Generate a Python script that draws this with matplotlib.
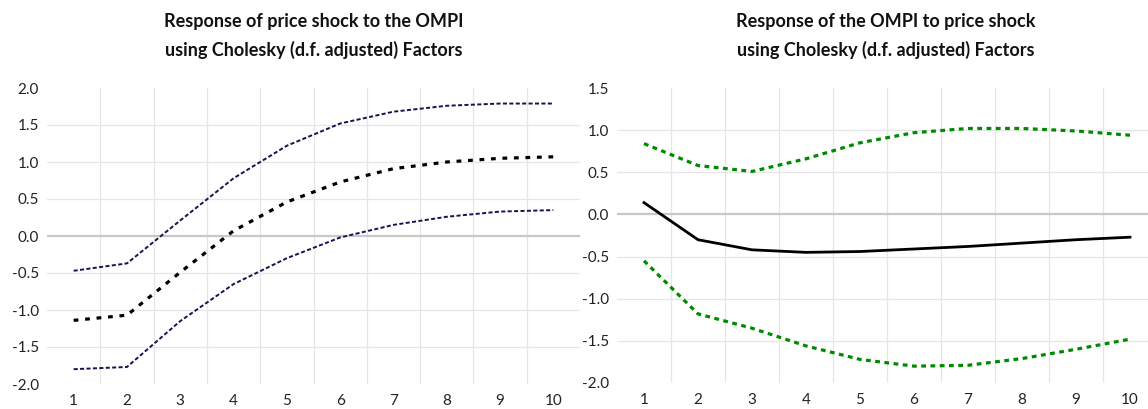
import matplotlib
matplotlib.use("Agg")
import matplotlib.pyplot as plt
import numpy as np

periods = [1, 2, 3, 4, 5, 6, 7, 8, 9, 10]

# Left panel: response of price shock to the OMPI
left_upper = [-0.47, -0.37, 0.21, 0.78, 1.22, 1.52, 1.68, 1.76, 1.79, 1.79]
left_mid = [-1.14, -1.07, -0.49, 0.07, 0.46, 0.73, 0.91, 1.00, 1.05, 1.07]
left_lower = [-1.80, -1.77, -1.15, -0.65, -0.30, -0.02, 0.15, 0.26, 0.33, 0.35]

# Right panel: response of the OMPI to price shock
right_upper = [0.84, 0.58, 0.51, 0.66, 0.85, 0.97, 1.02, 1.02, 0.99, 0.94]
right_mid = [0.14, -0.30, -0.42, -0.45, -0.44, -0.41, -0.38, -0.34, -0.30, -0.27]
right_lower = [-0.55, -1.18, -1.35, -1.56, -1.72, -1.80, -1.79, -1.71, -1.60, -1.48]

left_title = ["Response of price shock to the OMPI",
              "using Cholesky (d.f. adjusted) Factors"]
right_title = ["Response of the OMPI to price shock",
               "using Cholesky (d.f. adjusted) Factors"]
left_yticks = [-2.0, -1.5, -1.0, -0.5, 0.0, 0.5, 1.0, 1.5, 2.0]
right_yticks = [-2.0, -1.5, -1.0, -0.5, 0.0, 0.5, 1.0, 1.5]

plt.rcParams['font.family'] = ['Lato', 'DejaVu Sans']

W, H = 1148, 409
fig = plt.figure(figsize=(W / 100, H / 100), dpi=100)

def px_axes(x0, x1, ytop, ybot):
    return fig.add_axes([x0 / W, 1 - ybot / H, (x1 - x0) / W, (ybot - ytop) / H])

axL = px_axes(47, 580, 88, 384)
axR = px_axes(617, 1157, 88, 383)

def style(ax, yticks, title_lines, xc):
    ax.set_xlim(0.5, 10.5)
    ax.set_ylim(yticks[0], yticks[-1])
    ax.set_xticks(periods)
    ax.set_xticklabels([str(p) for p in periods])
    ax.set_yticks(yticks)
    ax.set_yticklabels([f"{v:.1f}" for v in yticks])
    ax.tick_params(axis='both', length=0, labelsize=11, colors='#222222')
    ax.tick_params(axis='y', pad=6)
    ax.tick_params(axis='x', pad=7)
    for s in ax.spines.values():
        s.set_visible(False)
    for b in np.arange(1.5, 10.0, 1.0):
        ax.axvline(b, color='#E6E6E6', lw=0.9, zorder=0)
    for v in yticks[1:-1]:
        if v != 0:
            ax.axhline(v, color='#E6E6E6', lw=0.9, zorder=0)
    ax.axhline(0, color='#C8C8C8', lw=1.6, zorder=1)
    for line, ypx in zip(title_lines, [22, 50]):
        fig.text(xc / W, 1 - ypx / H, line, ha='center', va='center',
                 fontsize=13, fontweight='bold', color='#111111')

style(axL, left_yticks, left_title, 314)
style(axR, right_yticks, right_title, 886)

navy = '#14144F'
axL.plot(periods, left_upper, color=navy, lw=1.4, linestyle=(0, (2.1, 1.2)), zorder=3)
axL.plot(periods, left_lower, color=navy, lw=1.4, linestyle=(0, (2.1, 1.2)), zorder=3)
axL.plot(periods, left_mid, color='black', lw=2.3, linestyle=(0, (1.5, 2.1)), zorder=3)

green = '#008A00'
axR.plot(periods, right_upper, color=green, lw=2.3, linestyle=(0, (1.5, 1.4)), zorder=3)
axR.plot(periods, right_lower, color=green, lw=2.3, linestyle=(0, (1.5, 1.4)), zorder=3)
axR.plot(periods, right_mid, color='black', lw=2.0, zorder=3)

fig.savefig("out.png", dpi=100)
